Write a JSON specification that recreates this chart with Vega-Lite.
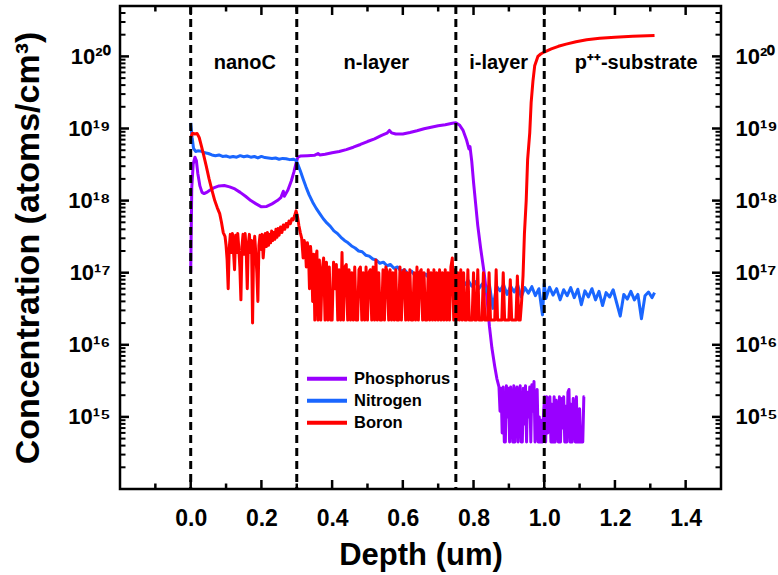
{
 "$schema": "https://vega.github.io/schema/vega-lite/v6.json",
 "width": 601, "height": 483,
 "autosize": {"type": "none"},
 "padding": {"left": 120, "top": 6, "right": 57, "bottom": 86},
 "background": "white",
 "config": {
  "view": {"stroke": "black", "strokeWidth": 2.5},
  "font": "Liberation Sans",
  "axis": {"grid": false, "domain": false, "ticks": false,
   "labelColor": "black", "labelFont": "Liberation Sans", "labelFontWeight": "bold", "labelFontSize": 23,
   "titleFont": "Liberation Sans", "titleFontWeight": "bold", "titleColor": "black",
   "labelOverlap": false, "labelBound": false, "labelFlush": false}
 },
 "datasets": {
  "P": [
   {"d":0.000,"c":1.0e17},{"d":0.003,"c":1.5e18},{"d":0.007,"c":3.2e18},{"d":0.012,"c":4.0e18},{"d":0.016,"c":3.6e18},{"d":0.020,"c":2.4e18},{"d":0.026,"c":1.6e18},{"d":0.032,"c":1.3e18},{"d":0.038,"c":1.25e18},{"d":0.045,"c":1.3e18},{"d":0.055,"c":1.4e18},{"d":0.065,"c":1.5e18},{"d":0.08,"c":1.6e18},{"d":0.095,"c":1.62e18},{"d":0.11,"c":1.55e18},{"d":0.125,"c":1.45e18},{"d":0.14,"c":1.3e18},{"d":0.155,"c":1.15e18},{"d":0.17,"c":1.0e18},{"d":0.185,"c":9.0e17},{"d":0.20,"c":8.2e17},{"d":0.215,"c":8.3e17},{"d":0.23,"c":9.0e17},{"d":0.245,"c":1.0e18},{"d":0.255,"c":1.1e18},{"d":0.262,"c":1.35e18},{"d":0.265,"c":1.15e18},{"d":0.275,"c":1.4e18},{"d":0.285,"c":1.9e18},{"d":0.292,"c":2.5e18},{"d":0.298,"c":3.3e18},{"d":0.303,"c":4.0e18},{"d":0.31,"c":4.15e18},{"d":0.33,"c":4.2e18},{"d":0.35,"c":4.25e18},{"d":0.36,"c":4.5e18},{"d":0.365,"c":4.3e18},{"d":0.38,"c":4.4e18},{"d":0.40,"c":4.6e18},{"d":0.42,"c":4.8e18},{"d":0.44,"c":5.1e18},{"d":0.46,"c":5.5e18},{"d":0.48,"c":6.0e18},{"d":0.50,"c":6.6e18},{"d":0.52,"c":7.2e18},{"d":0.54,"c":8.0e18},{"d":0.555,"c":8.6e18},{"d":0.562,"c":9.4e18},{"d":0.568,"c":8.7e18},{"d":0.58,"c":8.4e18},{"d":0.60,"c":8.4e18},{"d":0.62,"c":8.8e18},{"d":0.64,"c":9.3e18},{"d":0.66,"c":9.9e18},{"d":0.68,"c":1.04e19},{"d":0.70,"c":1.09e19},{"d":0.72,"c":1.13e19},{"d":0.74,"c":1.18e19},{"d":0.75,"c":1.2e19},{"d":0.76,"c":1.12e19},{"d":0.77,"c":9.5e18},{"d":0.78,"c":7.0e18},{"d":0.787,"c":5.2e18},{"d":0.79,"c":5.6e18},{"d":0.795,"c":3.5e18},{"d":0.80,"c":1.8e18},{"d":0.806,"c":9e17},{"d":0.812,"c":4.5e17},{"d":0.82,"c":2.2e17},{"d":0.83,"c":1.0e17},{"d":0.838,"c":4.5e16},{"d":0.845,"c":1.8e16},{"d":0.852,"c":9e15},{"d":0.86,"c":5e15},{"d":0.866,"c":3.4e15},{"d":0.872,"c":2.6e15},
   {"d":0.875,"c":1.2e15},{"d":0.878,"c":2.5e15},{"d":0.881,"c":6e14},{"d":0.884,"c":2.6e15},{"d":0.887,"c":4.5e14},{"d":0.890,"c":4.5e14},{"d":0.893,"c":2.7e15},{"d":0.896,"c":1.0e15},{"d":0.899,"c":2.5e15},{"d":0.902,"c":4.5e14},{"d":0.905,"c":2.6e15},{"d":0.908,"c":1.5e15},{"d":0.911,"c":4.5e14},{"d":0.914,"c":2.7e15},{"d":0.917,"c":4.5e14},{"d":0.920,"c":2.2e15},{"d":0.923,"c":2.6e15},{"d":0.926,"c":4.5e14},{"d":0.929,"c":1.8e15},{"d":0.932,"c":2.7e15},{"d":0.935,"c":4.5e14},{"d":0.938,"c":4.5e14},{"d":0.941,"c":2.5e15},{"d":0.944,"c":8e14},{"d":0.947,"c":2.7e15},{"d":0.950,"c":4.5e14},{"d":0.953,"c":2.2e15},{"d":0.956,"c":1.0e15},{"d":0.959,"c":2.6e15},{"d":0.962,"c":4.5e14},{"d":0.965,"c":2.8e15},{"d":0.968,"c":1.2e15},{"d":0.971,"c":3.1e15},{"d":0.974,"c":4.5e14},{"d":0.977,"c":9e14},{"d":0.980,"c":2.4e15},{"d":0.983,"c":4.5e14},{"d":0.986,"c":1.0e15},{"d":0.989,"c":4.5e14},{"d":0.992,"c":9e14},{"d":0.995,"c":4.5e14},{"d":0.998,"c":1.1e15},{"d":1.001,"c":1.9e15},{"d":1.004,"c":4.5e14},{"d":1.007,"c":1.9e15},{"d":1.010,"c":6e14},{"d":1.013,"c":1.8e15},{"d":1.016,"c":1.9e15},{"d":1.019,"c":4.5e14},{"d":1.022,"c":1.5e15},{"d":1.025,"c":4.5e14},{"d":1.028,"c":1.9e15},{"d":1.031,"c":4.5e14},{"d":1.034,"c":1.7e15},{"d":1.037,"c":1.0e15},{"d":1.040,"c":4.5e14},{"d":1.043,"c":1.9e15},{"d":1.046,"c":4.5e14},{"d":1.049,"c":1.8e15},{"d":1.052,"c":7e14},{"d":1.055,"c":1.9e15},{"d":1.058,"c":4.5e14},{"d":1.061,"c":1.4e15},{"d":1.064,"c":4.5e14},{"d":1.067,"c":2.2e15},{"d":1.070,"c":2.4e15},{"d":1.073,"c":4.5e14},{"d":1.076,"c":1.5e15},{"d":1.079,"c":4.5e14},{"d":1.082,"c":1.8e15},{"d":1.085,"c":9e14},{"d":1.088,"c":4.5e14},{"d":1.091,"c":1.9e15},{"d":1.094,"c":4.5e14},{"d":1.097,"c":4.5e14},{"d":1.100,"c":1.3e15},{"d":1.103,"c":4.5e14},{"d":1.106,"c":4.5e14},{"d":1.109,"c":4.5e14},{"d":1.112,"c":1.9e15},{"d":1.114,"c":1.9e15}
  ],
  "N": [
   {"d":0.000,"c":1.2e19},{"d":0.004,"c":7.5e18},{"d":0.008,"c":5.3e18},{"d":0.014,"c":4.8e18},{"d":0.02,"c":4.9e18},{"d":0.03,"c":4.85e18},{"d":0.04,"c":4.6e18},{"d":0.05,"c":4.5e18},{"d":0.06,"c":4.3e18},{"d":0.07,"c":4.2e18},{"d":0.08,"c":4.3e18},{"d":0.09,"c":4.1e18},{"d":0.10,"c":4.15e18},{"d":0.11,"c":4.0e18},{"d":0.12,"c":4.1e18},{"d":0.13,"c":4.0e18},{"d":0.14,"c":4.2e18},{"d":0.15,"c":4.05e18},{"d":0.16,"c":4.15e18},{"d":0.17,"c":4.0e18},{"d":0.18,"c":4.1e18},{"d":0.19,"c":3.9e18},{"d":0.20,"c":4.1e18},{"d":0.21,"c":3.95e18},{"d":0.22,"c":3.9e18},{"d":0.23,"c":3.85e18},{"d":0.24,"c":3.9e18},{"d":0.25,"c":3.75e18},{"d":0.26,"c":3.85e18},{"d":0.27,"c":3.8e18},{"d":0.28,"c":3.7e18},{"d":0.29,"c":3.75e18},{"d":0.298,"c":3.6e18},{"d":0.304,"c":3.1e18},{"d":0.31,"c":2.6e18},{"d":0.318,"c":2.0e18},{"d":0.326,"c":1.55e18},{"d":0.335,"c":1.2e18},{"d":0.345,"c":9.5e17},{"d":0.355,"c":7.8e17},{"d":0.365,"c":6.6e17},{"d":0.375,"c":5.6e17},{"d":0.385,"c":4.9e17},{"d":0.395,"c":4.4e17},{"d":0.405,"c":3.8e17},{"d":0.415,"c":3.5e17},{"d":0.425,"c":3.1e17},{"d":0.435,"c":2.8e17},{"d":0.445,"c":2.6e17},{"d":0.455,"c":2.35e17},{"d":0.465,"c":2.2e17},{"d":0.475,"c":2.0e17},{"d":0.485,"c":1.95e17},{"d":0.495,"c":1.75e17},{"d":0.505,"c":1.7e17},{"d":0.515,"c":1.55e17},{"d":0.525,"c":1.5e17},{"d":0.535,"c":1.35e17},{"d":0.545,"c":1.4e17},{"d":0.555,"c":1.25e17},{"d":0.565,"c":1.3e17},{"d":0.575,"c":1.15e17},{"d":0.585,"c":1.2e17},{"d":0.595,"c":1.05e17},{"d":0.605,"c":1.1e17},{"d":0.615,"c":9.5e16},{"d":0.625,"c":1.05e17},{"d":0.635,"c":9.0e16},{"d":0.645,"c":1.0e17},{"d":0.655,"c":8.5e16},{"d":0.665,"c":9.6e16},{"d":0.675,"c":8.2e16},{"d":0.685,"c":9.2e16},{"d":0.695,"c":8.0e16},{"d":0.705,"c":9.0e16},{"d":0.715,"c":7.6e16},{"d":0.725,"c":8.8e16},{"d":0.735,"c":7.4e16},{"d":0.745,"c":8.5e16},{"d":0.755,"c":7.2e16},{"d":0.765,"c":8.0e16},{"d":0.775,"c":6.8e16},{"d":0.785,"c":7.8e16},{"d":0.795,"c":6.5e16},{"d":0.805,"c":7.5e16},{"d":0.815,"c":6.0e16},{"d":0.825,"c":7.0e16},{"d":0.835,"c":5.5e16},{"d":0.845,"c":6.8e16},{"d":0.855,"c":3.2e16},{"d":0.865,"c":6.5e16},{"d":0.875,"c":5.6e16},{"d":0.885,"c":6.8e16},{"d":0.895,"c":5.0e16},{"d":0.905,"c":6.5e16},{"d":0.915,"c":5.4e16},{"d":0.925,"c":6.7e16},{"d":0.935,"c":4.6e16},{"d":0.945,"c":6.2e16},{"d":0.955,"c":5.2e16},{"d":0.965,"c":6.4e16},{"d":0.975,"c":4.8e16},{"d":0.985,"c":6.0e16},{"d":0.995,"c":2.6e16},{"d":1.000,"c":7.0e16},{"d":1.005,"c":4.4e16},{"d":1.015,"c":6.3e16},{"d":1.025,"c":4.9e16},{"d":1.035,"c":6.0e16},{"d":1.045,"c":4.2e16},{"d":1.055,"c":5.8e16},{"d":1.065,"c":4.8e16},{"d":1.075,"c":6.2e16},{"d":1.085,"c":4.5e16},{"d":1.095,"c":5.9e16},{"d":1.105,"c":3.6e16},{"d":1.115,"c":5.6e16},{"d":1.125,"c":4.6e16},{"d":1.135,"c":6.0e16},{"d":1.145,"c":4.2e16},{"d":1.155,"c":5.5e16},{"d":1.165,"c":3.5e16},{"d":1.175,"c":5.3e16},{"d":1.185,"c":4.6e16},{"d":1.195,"c":5.8e16},{"d":1.205,"c":3.8e16},{"d":1.215,"c":2.5e16},{"d":1.225,"c":5.0e16},{"d":1.235,"c":4.3e16},{"d":1.245,"c":5.5e16},{"d":1.255,"c":4.2e16},{"d":1.265,"c":5.0e16},{"d":1.275,"c":2.3e16},{"d":1.285,"c":4.8e16},{"d":1.295,"c":5.4e16},{"d":1.305,"c":4.5e16},{"d":1.312,"c":5.3e16}
  ],
  "B": [
   {"d":0.000,"c":7.5e18},{"d":0.005,"c":8.6e18},{"d":0.012,"c":8.4e18},{"d":0.018,"c":8.5e18},{"d":0.024,"c":7.5e18},{"d":0.03,"c":5.8e18},{"d":0.037,"c":4.2e18},{"d":0.044,"c":3.0e18},{"d":0.052,"c":2.0e18},{"d":0.06,"c":1.4e18},{"d":0.068,"c":1.0e18},{"d":0.075,"c":8.0e17},{"d":0.082,"c":6.6e17},{"d":0.087,"c":5.0e17},{"d":0.092,"c":3.6e17},{"d":0.097,"c":3.2e17},
   {"d":0.100,"c":2.4e17},{"d":0.103,"c":1.5e17},{"d":0.106,"c":6e16},{"d":0.109,"c":2.2e17},{"d":0.112,"c":3.4e17},{"d":0.115,"c":1.9e17},{"d":0.118,"c":3.5e17},{"d":0.121,"c":2.0e17},{"d":0.124,"c":1.1e17},{"d":0.127,"c":3.3e17},{"d":0.130,"c":1.9e17},{"d":0.133,"c":3.5e17},{"d":0.136,"c":2.2e17},{"d":0.139,"c":1.2e17},{"d":0.142,"c":4.2e16},{"d":0.145,"c":2.3e17},{"d":0.148,"c":3.4e17},{"d":0.151,"c":1.8e17},{"d":0.154,"c":3.5e17},{"d":0.157,"c":2.0e17},{"d":0.160,"c":6e16},{"d":0.163,"c":2.5e17},{"d":0.166,"c":3.4e17},{"d":0.169,"c":1.9e17},{"d":0.172,"c":2.8e17},{"d":0.175,"c":2.0e16},{"d":0.178,"c":2.2e17},{"d":0.181,"c":3.2e17},{"d":0.184,"c":1.9e17},{"d":0.187,"c":1.0e17},{"d":0.190,"c":4.0e16},{"d":0.193,"c":2.4e17},{"d":0.196,"c":3.3e17},{"d":0.199,"c":2.1e17},{"d":0.202,"c":3.4e17},{"d":0.205,"c":1.6e17},{"d":0.208,"c":2.5e17},{"d":0.211,"c":3.5e17},{"d":0.214,"c":2.3e17},{"d":0.217,"c":3.6e17},{"d":0.220,"c":2.4e17},{"d":0.223,"c":3.4e17},{"d":0.226,"c":2.6e17},{"d":0.229,"c":3.8e17},{"d":0.232,"c":2.8e17},{"d":0.235,"c":3.6e17},{"d":0.238,"c":2.9e17},{"d":0.241,"c":4.0e17},{"d":0.244,"c":3.1e17},{"d":0.247,"c":4.1e17},{"d":0.250,"c":3.3e17},{"d":0.254,"c":4.3e17},{"d":0.258,"c":3.6e17},{"d":0.262,"c":4.6e17},{"d":0.266,"c":4.0e17},{"d":0.270,"c":4.8e17},{"d":0.274,"c":4.3e17},{"d":0.278,"c":5.2e17},{"d":0.282,"c":4.8e17},{"d":0.286,"c":5.6e17},{"d":0.290,"c":5.4e17},{"d":0.294,"c":6.2e17},{"d":0.298,"c":7.2e17},{"d":0.302,"c":6.0e17},{"d":0.306,"c":4.5e17},{"d":0.310,"c":3.6e17},{"d":0.314,"c":3.0e17},{"d":0.318,"c":1.6e17},{"d":0.321,"c":2.8e17},{"d":0.324,"c":2.4e17},{"d":0.327,"c":1.2e17},{"d":0.330,"c":2.6e17},{"d":0.333,"c":2.0e17},{"d":0.336,"c":6e16},{"d":0.339,"c":2.3e17},{"d":0.342,"c":1.5e17},{"d":0.345,"c":4e16},{"d":0.348,"c":1.8e17},{"d":0.351,"c":2.2e16},{"d":0.354,"c":1.6e17},{"d":0.357,"c":2.0e17},
   {"d":0.360,"c":2.2e16},{"d":0.364,"c":1.5e17},{"d":0.368,"c":2.2e16},{"d":0.372,"c":1.1e17},{"d":0.376,"c":1.6e17},{"d":0.380,"c":2.2e16},{"d":0.384,"c":1.4e17},{"d":0.388,"c":2.2e16},{"d":0.392,"c":1.2e17},{"d":0.396,"c":2.2e16},{"d":0.400,"c":2.2e16},{"d":0.404,"c":1.4e17},{"d":0.408,"c":6e16},{"d":0.412,"c":1.3e17},{"d":0.416,"c":2.2e16},{"d":0.420,"c":1.1e17},{"d":0.424,"c":2.2e16},{"d":0.428,"c":1.9e17},{"d":0.432,"c":2.2e16},{"d":0.436,"c":1.2e17},{"d":0.440,"c":1.3e17},{"d":0.444,"c":2.2e16},{"d":0.448,"c":1.1e17},{"d":0.452,"c":2.2e16},{"d":0.456,"c":1.0e17},{"d":0.460,"c":2.2e16},{"d":0.464,"c":1.2e17},{"d":0.468,"c":2.2e16},{"d":0.472,"c":2.2e16},{"d":0.476,"c":1.1e17},{"d":0.480,"c":1.2e17},{"d":0.484,"c":2.2e16},{"d":0.488,"c":1.0e17},{"d":0.492,"c":2.2e16},{"d":0.496,"c":1.2e17},{"d":0.500,"c":2.2e16},{"d":0.504,"c":1.0e17},{"d":0.508,"c":1.1e17},{"d":0.512,"c":2.2e16},{"d":0.516,"c":1.2e17},{"d":0.520,"c":2.2e16},{"d":0.524,"c":1.5e17},{"d":0.528,"c":2.2e16},{"d":0.532,"c":1.0e17},{"d":0.536,"c":2.2e16},{"d":0.540,"c":2.2e16},{"d":0.544,"c":1.1e17},{"d":0.548,"c":2.2e16},{"d":0.552,"c":1.2e17},{"d":0.556,"c":1.0e17},{"d":0.560,"c":2.2e16},{"d":0.564,"c":1.1e17},{"d":0.568,"c":2.2e16},{"d":0.572,"c":1.0e17},{"d":0.576,"c":2.2e16},{"d":0.580,"c":1.1e17},{"d":0.584,"c":2.2e16},{"d":0.588,"c":2.2e16},{"d":0.592,"c":1.2e17},{"d":0.596,"c":2.2e16},{"d":0.600,"c":1.0e17},{"d":0.604,"c":1.1e17},{"d":0.608,"c":2.2e16},{"d":0.612,"c":1.0e17},{"d":0.616,"c":2.2e16},{"d":0.620,"c":1.1e17},{"d":0.624,"c":2.2e16},{"d":0.628,"c":2.2e16},{"d":0.632,"c":1.0e17},{"d":0.636,"c":2.2e16},{"d":0.640,"c":1.2e17},{"d":0.644,"c":2.2e16},{"d":0.648,"c":1.0e17},{"d":0.652,"c":1.1e17},{"d":0.656,"c":2.2e16},{"d":0.660,"c":1.0e17},{"d":0.664,"c":2.2e16},{"d":0.668,"c":2.2e16},{"d":0.672,"c":1.1e17},{"d":0.676,"c":2.2e16},{"d":0.680,"c":1.0e17},{"d":0.684,"c":2.2e16},{"d":0.688,"c":1.1e17},{"d":0.692,"c":2.2e16},{"d":0.696,"c":1.0e17},{"d":0.700,"c":2.2e16},{"d":0.704,"c":1.1e17},{"d":0.708,"c":2.2e16},{"d":0.712,"c":1.0e17},{"d":0.716,"c":2.2e16},{"d":0.720,"c":1.1e17},{"d":0.724,"c":2.2e16},{"d":0.728,"c":1.0e17},{"d":0.732,"c":2.2e16},{"d":0.736,"c":1.2e17},{"d":0.740,"c":1.6e17},{"d":0.744,"c":2.2e16},{"d":0.748,"c":1.1e17},{"d":0.752,"c":2.2e16},{"d":0.756,"c":1.0e17},{"d":0.760,"c":2.2e16},{"d":0.764,"c":1.1e17},{"d":0.768,"c":2.2e16},{"d":0.772,"c":1.0e17},{"d":0.776,"c":2.2e16},{"d":0.780,"c":2.2e16},{"d":0.784,"c":1.1e17},{"d":0.788,"c":2.2e16},{"d":0.792,"c":2.2e16},{"d":0.796,"c":2.2e16},{"d":0.800,"c":1.0e17},{"d":0.804,"c":2.2e16},{"d":0.808,"c":2.2e16},{"d":0.812,"c":1.1e17},{"d":0.816,"c":2.2e16},{"d":0.820,"c":2.2e16},{"d":0.824,"c":2.2e16},{"d":0.828,"c":1.0e17},{"d":0.832,"c":2.2e16},{"d":0.836,"c":2.2e16},{"d":0.840,"c":2.2e16},{"d":0.844,"c":1.0e17},{"d":0.848,"c":2.2e16},{"d":0.852,"c":2.2e16},{"d":0.856,"c":2.2e16},{"d":0.860,"c":2.2e16},{"d":0.864,"c":1.1e17},{"d":0.868,"c":2.2e16},{"d":0.872,"c":2.2e16},{"d":0.876,"c":2.2e16},{"d":0.880,"c":2.2e16},{"d":0.884,"c":1.0e17},{"d":0.888,"c":2.2e16},{"d":0.892,"c":2.2e16},{"d":0.896,"c":2.2e16},{"d":0.900,"c":2.2e16},{"d":0.904,"c":8e16},{"d":0.908,"c":2.2e16},{"d":0.912,"c":2.2e16},{"d":0.916,"c":2.2e16},{"d":0.920,"c":2.2e16},{"d":0.924,"c":9e16},{"d":0.928,"c":2.2e16},{"d":0.932,"c":2.2e16},{"d":0.936,"c":4e16},{"d":0.940,"c":9e16},{"d":0.944,"c":3.5e17},{"d":0.949,"c":1.0e18},{"d":0.953,"c":3.7e18},{"d":0.959,"c":8.7e18},{"d":0.963,"c":2.3e19},{"d":0.968,"c":4.5e19},{"d":0.973,"c":7.4e19},{"d":0.982,"c":1.0e20},{"d":0.990,"c":1.08e20},{"d":1.000,"c":1.15e20},{"d":1.02,"c":1.27e20},{"d":1.04,"c":1.38e20},{"d":1.062,"c":1.48e20},{"d":1.09,"c":1.6e20},{"d":1.12,"c":1.7e20},{"d":1.157,"c":1.78e20},{"d":1.20,"c":1.85e20},{"d":1.25,"c":1.9e20},{"d":1.312,"c":1.95e20}
  ],
  "regions": [
   {"t":"nanoC","d":0.153,"c":8.0e19},
   {"t":"n-layer","d":0.525,"c":8.0e19},
   {"t":"i-layer","d":0.871,"c":8.0e19},
   {"t":"p⁺⁺-substrate","d":1.26,"c":8.0e19}
  ],
  "bounds": [{"d":0},{"d":0.3},{"d":0.75},{"d":1.0}],
  "xmaj": [{"v":0},{"v":0.2},{"v":0.4},{"v":0.6},{"v":0.8},{"v":1.0},{"v":1.2},{"v":1.4}],
  "xmin": [{"v":-0.1},{"v":0.1},{"v":0.3},{"v":0.5},{"v":0.7},{"v":0.9},{"v":1.1},{"v":1.3}],
  "ymaj": [{"v":1e15},{"v":1e16},{"v":1e17},{"v":1e18},{"v":1e19},{"v":1e20}],
  "ymin": [{"v":2e14},{"v":3e14},{"v":4e14},{"v":5e14},{"v":6e14},{"v":7e14},{"v":8e14},{"v":9e14},{"v":2e15},{"v":3e15},{"v":4e15},{"v":5e15},{"v":6e15},{"v":7e15},{"v":8e15},{"v":9e15},{"v":2e16},{"v":3e16},{"v":4e16},{"v":5e16},{"v":6e16},{"v":7e16},{"v":8e16},{"v":9e16},{"v":2e17},{"v":3e17},{"v":4e17},{"v":5e17},{"v":6e17},{"v":7e17},{"v":8e17},{"v":9e17},{"v":2e18},{"v":3e18},{"v":4e18},{"v":5e18},{"v":6e18},{"v":7e18},{"v":8e18},{"v":9e18},{"v":2e19},{"v":3e19},{"v":4e19},{"v":5e19},{"v":6e19},{"v":7e19},{"v":8e19},{"v":9e19},{"v":2e20},{"v":3e20},{"v":4e20}]
 },
 "layer": [
  {
   "data": {"name": "P"},
   "mark": {"type": "line", "strokeWidth": 3, "strokeJoin": "round"},
   "encoding": {
    "x": {"field": "d", "type": "quantitative", "scale": {"domain": [-0.2, 1.5], "nice": false, "zero": false},
     "axis": {"orient": "bottom", "title": "Depth (um)", "titleFontSize": 31, "titlePadding": 10,
      "values": [0,0.2,0.4,0.6,0.8,1.0,1.2,1.4], "format": ".1f", "labelPadding": 18}},
    "y": {"field": "c", "type": "quantitative", "scale": {"type": "log", "domain": [1e14, 5e20], "nice": false},
     "axis": {"orient": "left", "title": "Concentration (atoms/cm³)", "titleFontSize": 34, "titlePadding": 22,
      "values": [1e15,1e16,1e17,1e18,1e19,1e20], "labelFontSize": 22,
      "labelExpr": "datum.value==1e15?'10¹⁵':datum.value==1e16?'10¹⁶':datum.value==1e17?'10¹⁷':datum.value==1e18?'10¹⁸':datum.value==1e19?'10¹⁹':datum.value==1e20?'10²⁰':''",
      "labelPadding": 10}},
    "color": {"datum": "Phosphorus", "type": "nominal",
     "scale": {"domain": ["Phosphorus", "Nitrogen", "Boron"], "range": ["#9900FF", "#1A66FF", "#FF0000"]},
     "legend": {"title": null, "orient": "none", "legendX": 185, "legendY": 362, "symbolType": "stroke", "symbolSize": 1600, "symbolStrokeWidth": 4,
      "clipHeight": 21.5, "rowPadding": 0,
      "labelFontSize": 16.5, "labelFont": "Liberation Sans", "labelFontWeight": "bold", "labelColor": "black", "labelOffset": 5, "padding": 0}}
   }
  },
  {
   "data": {"name": "N"},
   "mark": {"type": "line", "strokeWidth": 3, "strokeJoin": "round"},
   "encoding": {
    "x": {"field": "d", "type": "quantitative", "axis": null},
    "y": {"field": "c", "type": "quantitative", "axis": null},
    "color": {"datum": "Nitrogen", "type": "nominal"}
   }
  },
  {
   "data": {"name": "B"},
   "mark": {"type": "line", "strokeWidth": 3, "strokeJoin": "round"},
   "encoding": {
    "x": {"field": "d", "type": "quantitative", "axis": null},
    "y": {"field": "c", "type": "quantitative", "axis": null},
    "color": {"datum": "Boron", "type": "nominal"}
   }
  },
  {
   "data": {"name": "bounds"},
   "mark": {"type": "rule", "color": "black", "strokeWidth": 3, "strokeDash": [8, 5]},
   "encoding": {
    "x": {"field": "d", "type": "quantitative", "axis": null}
   }
  },
  {
   "data": {"name": "xmaj"},
   "mark": {"type": "tick", "orient": "vertical", "size": 18, "thickness": 2.5, "color": "black", "opacity": 1, "clip": true},
   "encoding": {"x": {"field": "v", "type": "quantitative", "axis": null}, "y": {"datum": 1e14, "type": "quantitative", "axis": null}}
  },
  {
   "data": {"name": "xmaj"},
   "mark": {"type": "tick", "orient": "vertical", "size": 18, "thickness": 2.5, "color": "black", "opacity": 1, "clip": true},
   "encoding": {"x": {"field": "v", "type": "quantitative", "axis": null}, "y": {"datum": 5e20, "type": "quantitative", "axis": null}}
  },
  {
   "data": {"name": "xmin"},
   "mark": {"type": "tick", "orient": "vertical", "size": 11, "thickness": 2.5, "color": "black", "opacity": 1, "clip": true},
   "encoding": {"x": {"field": "v", "type": "quantitative", "axis": null}, "y": {"datum": 1e14, "type": "quantitative", "axis": null}}
  },
  {
   "data": {"name": "xmin"},
   "mark": {"type": "tick", "orient": "vertical", "size": 11, "thickness": 2.5, "color": "black", "opacity": 1, "clip": true},
   "encoding": {"x": {"field": "v", "type": "quantitative", "axis": null}, "y": {"datum": 5e20, "type": "quantitative", "axis": null}}
  },
  {
   "data": {"name": "ymaj"},
   "mark": {"type": "tick", "orient": "horizontal", "size": 18, "thickness": 2.5, "color": "black", "opacity": 1, "clip": true},
   "encoding": {"y": {"field": "v", "type": "quantitative", "axis": null}, "x": {"datum": -0.2, "type": "quantitative", "axis": null}}
  },
  {
   "data": {"name": "ymaj"},
   "mark": {"type": "tick", "orient": "horizontal", "size": 18, "thickness": 2.5, "color": "black", "opacity": 1, "clip": true},
   "encoding": {"y": {"field": "v", "type": "quantitative", "axis": null}, "x": {"datum": 1.5, "type": "quantitative", "axis": null}}
  },
  {
   "data": {"name": "ymin"},
   "mark": {"type": "tick", "orient": "horizontal", "size": 11, "thickness": 2, "color": "black", "opacity": 1, "clip": true},
   "encoding": {"y": {"field": "v", "type": "quantitative", "axis": null}, "x": {"datum": -0.2, "type": "quantitative", "axis": null}}
  },
  {
   "data": {"name": "ymin"},
   "mark": {"type": "tick", "orient": "horizontal", "size": 11, "thickness": 2, "color": "black", "opacity": 1, "clip": true},
   "encoding": {"y": {"field": "v", "type": "quantitative", "axis": null}, "x": {"datum": 1.5, "type": "quantitative", "axis": null}}
  },
  {
   "data": {"name": "regions"},
   "mark": {"type": "text", "font": "Liberation Sans", "fontWeight": "bold", "fontSize": 20, "color": "black", "align": "center", "baseline": "middle"},
   "encoding": {
    "x": {"field": "d", "type": "quantitative", "axis": null},
    "y": {"field": "c", "type": "quantitative",
     "axis": {"orient": "right", "title": null,
      "values": [1e15,1e16,1e17,1e18,1e19,1e20], "labelFontSize": 22,
      "labelExpr": "datum.value==1e15?'10¹⁵':datum.value==1e16?'10¹⁶':datum.value==1e17?'10¹⁷':datum.value==1e18?'10¹⁸':datum.value==1e19?'10¹⁹':datum.value==1e20?'10²⁰':''",
      "labelPadding": 14}},
    "text": {"field": "t", "type": "nominal"}
   }
  }
 ],
 "resolve": {"axis": {"x": "independent", "y": "independent"}}
}
